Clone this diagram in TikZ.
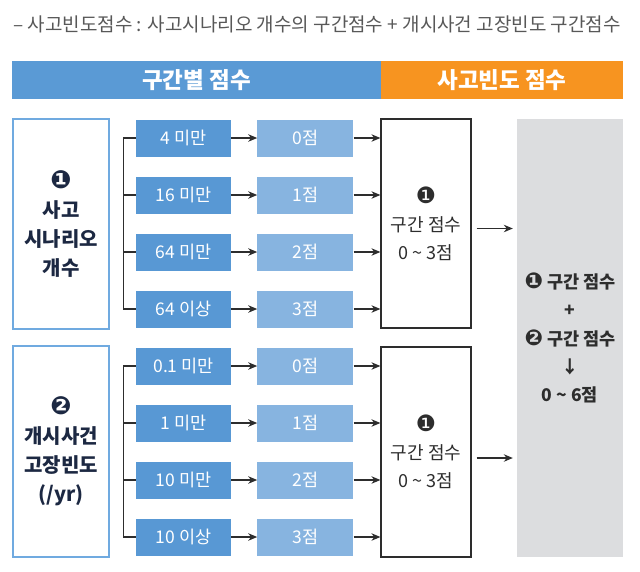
\documentclass[tikz,border=0pt]{standalone}
\usepackage{fontspec}
\setmainfont{Noto Sans CJK KR}
\newfontfamily\dingfont[Scale=1.25]{DejaVu Sans}
\usepackage{tikz}
\usetikzlibrary{arrows.meta}
\usetikzlibrary{positioning}
\definecolor{headblue}{RGB}{90,154,213}
\definecolor{headorange}{RGB}{247,148,32}
\definecolor{rangeblue}{RGB}{88,152,212}
\definecolor{scoreblue}{RGB}{135,180,224}
\definecolor{edgeblue}{RGB}{112,170,224}
\definecolor{sumgray}{RGB}{220,221,223}
\definecolor{navy}{RGB}{28,40,66}
\definecolor{titlegray}{RGB}{88,88,88}
\definecolor{linedark}{RGB}{45,45,45}
\tikzset{
    blackarrow/.style={
        line width=1.2pt,
        linedark,
        -{Stealth[length=9pt, width=7.5pt]}
    },
    bracketline/.style={line width=1.2pt, linedark},
    headbar/.style={
        minimum height=38pt, inner sep=0pt, text=white,
        font=\fontsize{22.5}{26}\selectfont\bfseries
    },
    % 左侧说明框
    inbox/.style={
        draw=edgeblue, line width=1.6pt, fill=white,
        minimum width=96pt, inner sep=0pt, align=center, text=navy,
        font=\fontsize{20}{29}\selectfont\bfseries
    },
    rangebox/.style={
        fill=rangeblue, minimum width=95pt, minimum height=37pt,
        inner sep=0pt, text=white, font=\fontsize{17.5}{20}\selectfont
    },
    scorebox/.style={
        fill=scoreblue, minimum width=96pt, minimum height=37pt,
        inner sep=0pt, text=white, font=\fontsize{17.5}{20}\selectfont
    },
    sumbox/.style={
        draw=linedark, line width=1.2pt, minimum width=90pt,
        inner sep=0pt, align=center, text=linedark,
        font=\fontsize{18}{28}\selectfont
    }
}
\begin{document}
\begin{tikzpicture}[x=1pt, y=-1pt]
    \useasboundingbox (0,0) rectangle (640,571);
    \node[anchor=west, text=titlegray, font=\fontsize{19}{22}\selectfont, inner sep=0pt] (title) at (13,24)
        {– 사고빈도점수 : 사고시나리오 개수의 구간점수 + 개시사건 고장빈도 구간점수};
    \node[headbar, fill=headblue, minimum width=369pt] (hdscore) at (196.5,80) {구간별 점수};
    \node[headbar, fill=headorange, minimum width=242pt] (hdfreq) at (502,80) {사고빈도 점수};

    \node[inbox, minimum height=210pt] (scen) at (61,224) {{\dingfont ❶}\\사고\\시나리오\\개수};
    \node[inbox, minimum height=211pt] (init) at (61,451.5) {{\dingfont ❷}\\개시사건\\고장빈도\\(/yr)};

    \node[rangebox] (r1) at (183.5,138) {4 미만};
    \node[rangebox] (r2) at (183.5,195) {16 미만};
    \node[rangebox] (r3) at (183.5,252) {64 미만};
    \node[rangebox] (r4) at (183.5,309) {64 이상};
    \node[rangebox] (r5) at (183.5,366) {0.1 미만};
    \node[rangebox] (r6) at (183.5,423) {1 미만};
    \node[rangebox] (r7) at (183.5,480) {10 미만};
    \node[rangebox] (r8) at (183.5,537) {10 이상};

    \node[scorebox, right=26pt of r1] (s1) {0점};
    \node[scorebox, right=26pt of r2] (s2) {1점};
    \node[scorebox, right=26pt of r3] (s3) {2점};
    \node[scorebox, right=26pt of r4] (s4) {3점};
    \node[scorebox, right=26pt of r5] (s5) {0점};
    \node[scorebox, right=26pt of r6] (s6) {1점};
    \node[scorebox, right=26pt of r7] (s7) {2점};
    \node[scorebox, right=26pt of r8] (s8) {3점};

    \node[sumbox, minimum height=209pt] (b1) at (426,223.5) {{\dingfont ❶}\\구간 점수\\0 \textasciitilde{} 3점};
    \node[sumbox, minimum height=210pt] (b2) at (426,452) {{\dingfont ❶}\\구간 점수\\0 \textasciitilde{} 3점};

    \node[fill=sumgray, minimum width=106pt, minimum height=438pt, inner sep=0pt, align=center, text=linedark,
        font=\fontsize{17.5}{28.3}\selectfont\bfseries] (total) at (570,338)
        {{\dingfont ❶} 구간 점수\\+\\{\dingfont ❷} 구간 점수\\↓\\0 \textasciitilde{} 6점};

    \draw[bracketline] (r1.west) -- ++(-12,0) coordinate (k1) -- (k1 |- r4.west) -- (r4.west);
    \draw[bracketline] (r2.west) -- (r2.west -| k1);
    \draw[bracketline] (r3.west) -- (r3.west -| k1);
    \draw[bracketline] (r5.west) -- ++(-12,0) coordinate (k2) -- (k2 |- r8.west) -- (r8.west);
    \draw[bracketline] (r6.west) -- (r6.west -| k2);
    \draw[bracketline] (r7.west) -- (r7.west -| k2);

    \draw[blackarrow] (r1) -- (s1);
    \draw[blackarrow] (r2) -- (s2);
    \draw[blackarrow] (r3) -- (s3);
    \draw[blackarrow] (r4) -- (s4);
    \draw[blackarrow] (r5) -- (s5);
    \draw[blackarrow] (r6) -- (s6);
    \draw[blackarrow] (r7) -- (s7);
    \draw[blackarrow] (r8) -- (s8);

    \draw[blackarrow] (s1) -- (s1 -| b1.west);
    \draw[blackarrow] (s2) -- (s2 -| b1.west);
    \draw[blackarrow] (s3) -- (s3 -| b1.west);
    \draw[blackarrow] (s4) -- (s4 -| b1.west);
    \draw[blackarrow] (s5) -- (s5 -| b2.west);
    \draw[blackarrow] (s6) -- (s6 -| b2.west);
    \draw[blackarrow] (s7) -- (s7 -| b2.west);
    \draw[blackarrow] (s8) -- (s8 -| b2.west);

    \draw[blackarrow, shorten <=5pt, shorten >=4pt] ([yshift=-5pt]b1.east) -- ([yshift=-5pt]b1.east -| total.west);
    \draw[blackarrow, shorten <=5pt, shorten >=4pt] ([yshift=-6pt]b2.east) -- ([yshift=-6pt]b2.east -| total.west);
\end{tikzpicture}
\end{document}
